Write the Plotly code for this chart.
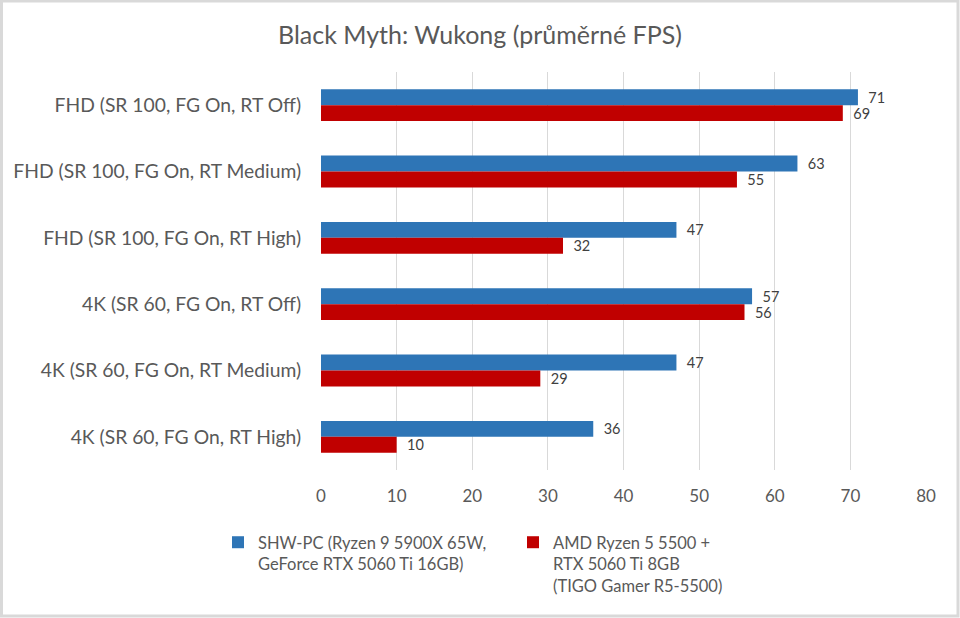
import plotly.graph_objects as go

categories = [
    "FHD (SR 100, FG On, RT Off)",
    "FHD (SR 100, FG On, RT Medium)",
    "FHD (SR 100, FG On, RT High)",
    "4K (SR 60, FG On, RT Off)",
    "4K (SR 60, FG On, RT Medium)",
    "4K (SR 60, FG On, RT High)",
]
series1_name = "SHW-PC (Ryzen 9 5900X 65W,<br>GeForce RTX 5060 Ti 16GB)"
series1 = [71, 63, 47, 57, 47, 36]
series2_name = "AMD Ryzen 5 5500 +<br>RTX 5060 Ti 8GB<br>(TIGO Gamer R5-5500)"
series2 = [69, 55, 32, 56, 29, 10]
x_ticks = [0, 10, 20, 30, 40, 50, 60, 70, 80]

FONT = "Lato, Open Sans, sans-serif"
TXT = "#595959"

fig = go.Figure()
for name, vals, col in [(series1_name, series1, "#2e75b6"), (series2_name, series2, "#c00000")]:
    fig.add_trace(go.Bar(
        y=categories, x=vals, name=name, orientation="h",
        marker=dict(color=col, line=dict(width=0)),
        texttemplate="\u00a0\u00a0%{x}", textposition="outside", cliponaxis=False,
        constraintext="none",
        textfont=dict(size=14.5, color="#404040", family=FONT),
    ))

fig.update_layout(
    width=960, height=618,
    margin=dict(l=321, r=34, t=72, b=148, autoexpand=False),
    paper_bgcolor="white", plot_bgcolor="white",
    barmode="group", bargap=0.52, bargroupgap=0,
    title=dict(text="Black Myth: Wukong (průměrné FPS)", x=0.5, xanchor="center",
               y=1 - 35 / 618, yanchor="middle",
               font=dict(family=FONT, size=25, color=TXT)),
    font=dict(family=FONT, color=TXT),
    xaxis=dict(range=[0, 80], tickvals=x_ticks, showgrid=True, gridcolor="#d9d9d9",
               gridwidth=1, zeroline=False, showline=False,
               ticks="outside", ticklen=11, tickcolor="rgba(0,0,0,0)",
               tickfont=dict(size=17, color=TXT, family=FONT)),
    yaxis=dict(autorange="reversed", showgrid=False, showline=False,
               ticks="outside", ticklen=15, tickcolor="rgba(0,0,0,0)",
               tickfont=dict(size=19.3, color=TXT, family=FONT)),
    legend=dict(orientation="h", xref="container", yref="container",
                x=218 / 960, xanchor="left", y=1 - 525 / 618, yanchor="top",
                bgcolor="rgba(0,0,0,0)",
                font=dict(size=16.5, color=TXT, family=FONT),
                itemwidth=30, traceorder="normal", valign="top",
                entrywidthmode="pixels", entrywidth=250),
    showlegend=True,
)

fig.add_shape(type="rect", xref="paper", yref="paper",
              x0=-321 / 605 + 1.5 / 605, x1=1 + 34 / 605 - 2 / 605,
              y0=-148 / 398 + 2 / 398, y1=1 + 72 / 398 - 1 / 398,
              line=dict(color="#d9d9d9", width=3), layer="below")

fig.write_html("out.html")
